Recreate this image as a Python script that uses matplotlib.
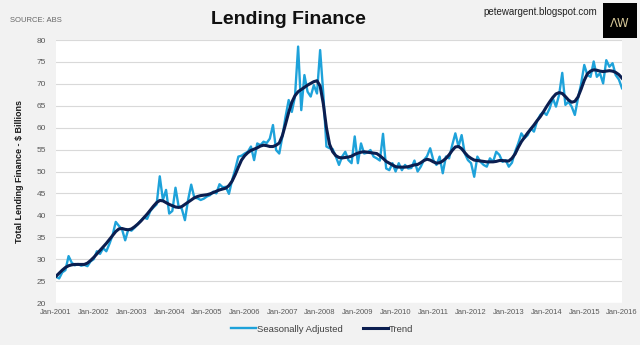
import matplotlib
matplotlib.use("Agg")
import matplotlib.pyplot as plt
import numpy as np

# monthly data, Jan-2001 .. Jan-2016 ($ billions)
seasonally_adjusted = [
    26.0, 25.6, 27.0, 27.5, 30.7, 29.2, 28.6, 28.9, 28.5, 28.7, 28.4, 29.5,
    30.0, 31.8, 31.2, 32.5, 31.8, 33.5, 35.5, 38.5, 37.6, 36.8, 34.3, 36.8,
    36.5, 37.2, 38.0, 38.8, 39.5, 39.2, 41.0, 41.8, 42.5, 48.9, 43.5, 45.8,
    40.4, 41.0, 46.3, 42.0, 41.5, 38.9, 43.5, 47.0, 44.0, 43.9, 43.5, 43.8,
    44.3, 44.6, 45.4, 45.0, 47.1, 46.4, 46.5, 44.9, 48.0, 50.5, 53.4, 53.6,
    54.1, 54.5, 55.7, 52.6, 56.4, 56.0, 56.8, 56.5, 57.5, 60.6, 54.9, 54.1,
    58.0, 62.5, 66.3, 63.6, 67.1, 78.5, 64.0, 72.0, 68.2, 67.1, 69.7, 67.8,
    77.7, 67.8, 55.7, 55.3, 55.1, 53.4, 51.5, 53.4, 54.5, 52.6, 51.9, 58.0,
    51.9, 56.4, 54.1, 54.3, 54.9, 53.4, 53.0, 52.5, 58.6, 50.7, 50.3, 51.9,
    50.0, 51.9, 50.3, 51.5, 50.7, 50.8, 52.5, 50.0, 51.1, 52.6, 53.5, 55.3,
    52.6, 51.5, 53.4, 49.6, 53.4, 53.0, 56.0, 58.7, 55.7, 58.3, 54.1, 52.6,
    51.9, 48.8, 53.4, 52.2, 51.5, 51.1, 53.0, 52.2, 54.5, 53.8, 52.2, 52.6,
    51.1, 52.0, 54.5, 56.4, 58.7, 57.6, 58.3, 59.8, 59.1, 61.5, 62.9, 63.6,
    62.9, 64.4, 66.7, 64.8, 67.5, 72.5, 65.2, 65.9, 64.8, 62.9, 66.7, 70.0,
    74.3, 72.0, 71.6, 75.1, 71.6, 72.4, 70.1, 75.4, 73.9, 74.7, 72.0, 71.0,
    69.0,
]
trend = [
    26.1, 26.8, 27.5, 28.1, 28.5, 28.7, 28.8, 28.8, 28.8, 28.8, 29.1, 29.7,
    30.4, 31.2, 32.0, 32.8, 33.6, 34.5, 35.4, 36.3, 36.9, 37.0, 36.8, 36.7,
    36.9, 37.4, 38.0, 38.7, 39.5, 40.3, 41.2, 42.1, 42.9, 43.4, 43.3, 42.9,
    42.5, 42.2, 41.9, 41.8, 42.0, 42.5, 43.0, 43.5, 44.0, 44.3, 44.5, 44.6,
    44.7, 44.9, 45.2, 45.5, 45.8, 46.0, 46.2, 46.8, 47.8, 49.3, 51.0, 52.6,
    53.6, 54.3, 54.8, 55.1, 55.4, 55.8, 56.0, 55.9, 55.7, 55.7, 56.0, 56.5,
    58.2, 60.8, 63.5, 65.8, 67.3, 68.2, 68.7, 69.2, 69.7, 70.1, 70.5, 70.7,
    69.5, 65.5, 60.0, 56.2, 54.5, 53.6, 53.2, 53.1, 53.2, 53.3, 53.5, 53.9,
    54.2, 54.4, 54.5, 54.4, 54.3, 54.2, 54.1, 53.6, 53.0, 52.3, 51.9, 51.5,
    51.1, 51.0, 51.0, 51.0, 51.1, 51.3, 51.5, 51.6, 52.0, 52.5, 52.8, 52.6,
    52.2, 51.9, 52.0, 52.4, 53.0, 53.8, 54.8, 55.6, 55.7, 55.2, 54.3, 53.5,
    53.0, 52.6, 52.5, 52.4, 52.3, 52.2, 52.2, 52.2, 52.3, 52.5, 52.5, 52.4,
    52.4, 53.0, 54.0, 55.5, 56.8, 57.8, 58.8, 59.7, 60.6, 61.6, 62.5, 63.6,
    64.8, 65.9, 66.9, 67.7, 68.0, 67.8, 67.1, 66.3, 65.8, 66.0, 67.0, 68.8,
    70.8, 72.3, 72.9, 73.2, 73.1, 72.9, 72.8, 72.9, 73.0, 72.9, 72.6, 72.1,
    71.3,
]
years = list(range(2001, 2017))
tick_labels = [f"Jan-{y}" for y in years]

plt.rcParams["font.family"] = ["Liberation Sans", "DejaVu Sans"]

bg = "#f2f2f2"
sa_color = "#1ea2da"
trend_color = "#0b1e50"
text_grey = "#595959"

fig = plt.figure(figsize=(6.4, 3.45), dpi=100, facecolor=bg)
ax = fig.add_axes([56 / 640, 1 - 303 / 345, (622 - 56) / 640, (303 - 40) / 345])
ax.set_facecolor("white")

months = np.arange(len(seasonally_adjusted))
ax.plot(months, seasonally_adjusted, color=sa_color, lw=1.7, label="Seasonally Adjusted")
ax.plot(months, trend, color=trend_color, lw=2.2, label="Trend")

ax.set_xlim(0, 180)
ax.set_ylim(20, 80)
ax.set_yticks(range(20, 81, 5))
ax.set_xticks(np.arange(len(years)) * 12)
ax.set_xticklabels(tick_labels)
ax.tick_params(axis="both", length=0, colors=text_grey)
ax.tick_params(axis="x", pad=4, labelsize=5.5)
ax.tick_params(axis="y", pad=7, labelsize=6)
ax.grid(axis="y", color="#d9d9d9", lw=0.8)
ax.set_axisbelow(True)
for s in ax.spines.values():
    s.set_visible(False)

ax.set_ylabel("Total Lending Finance - $ Billions", fontsize=6.5, fontweight="bold",
              color="#1a1a1a", labelpad=9)

leg = ax.legend(loc="upper center", bbox_to_anchor=(0.47, -0.05), ncol=2, frameon=False,
                fontsize=6.8, handlelength=2.6, handletextpad=0.1, columnspacing=2.2)
for t in leg.get_texts():
    t.set_color("#404040")

# header
fig.text(288 / 640, 1 - 20 / 345, "Lending Finance", ha="center", va="center",
         fontsize=14, fontweight="bold", color="#111111")
fig.text(10 / 640, 1 - 20 / 345, "SOURCE: ABS", ha="left", va="center",
         fontsize=5.5, color="#666666")
fig.text(597 / 640, 1 - 12 / 345, "petewargent.blogspot.com", ha="right", va="center",
         fontsize=7, color="#222222")
logo = fig.add_axes([603 / 640, 1 - 38 / 345, 34 / 640, 35 / 345])
logo.set_facecolor("black")
logo.set_xticks([])
logo.set_yticks([])
for s in logo.spines.values():
    s.set_visible(False)
logo.text(0.5, 0.42, "ΛW", ha="center", va="center", fontsize=8.5,
          color="#d8c99a", family=["DejaVu Sans"])

fig.savefig("out.png", dpi=100, facecolor=bg)
